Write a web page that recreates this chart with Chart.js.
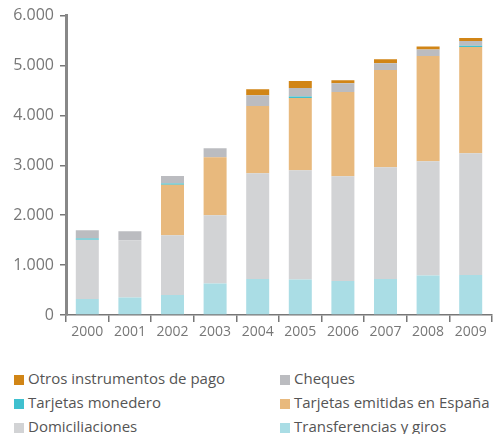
<!DOCTYPE html>
<html>
<head>
<meta charset="utf-8">
<script src="https://cdn.jsdelivr.net/npm/chart.js@4"></script>
<style>
    body { margin: 0; background: #fff; font-family: "Open Sans", sans-serif; }
    #wrap { position: relative; width: 494px; height: 345px; }
    #legend { position: relative; width: 494px; height: 89px; }
    .item { position: absolute; font-size: 15px; color: #555; white-space: nowrap; line-height: 18px; }
    .item span { display: inline-block; width: 10px; height: 10px; margin-right: 4px; vertical-align: -1px; }
</style>
</head>
<body>
<div id="wrap"><canvas id="chart"></canvas></div>
<div id="legend"></div>
<script>
// Data (millones de operaciones, aprox.)
const years = ['2000', '2001', '2002', '2003', '2004', '2005', '2006', '2007', '2008', '2009'];
const transferencias = [320, 350, 400, 630, 720, 710, 680, 720, 790, 800];
const domiciliaciones = [1190, 1150, 1200, 1370, 2120, 2190, 2100, 2240, 2290, 2440];
const tarjetasEspana = [0, 0, 1010, 1160, 1350, 1450, 1690, 1950, 2110, 2130];
const tarjetasMonedero = [25, 0, 25, 0, 0, 30, 0, 0, 0, 25];
const cheques = [165, 180, 150, 180, 213, 170, 173, 133, 133, 95];
const otros = [0, 0, 0, 0, 120, 140, 60, 80, 60, 60];
const yTicks = [0, 1000, 2000, 3000, 4000, 5000, 6000];

const datasets = [
    { label: 'Transferencias y giros', data: transferencias, backgroundColor: '#aadde5' },
    { label: 'Domiciliaciones', data: domiciliaciones, backgroundColor: '#d2d3d5' },
    { label: 'Tarjetas emitidas en España', data: tarjetasEspana, backgroundColor: '#e8b97d' },
    { label: 'Tarjetas monedero', data: tarjetasMonedero, backgroundColor: '#3fc0cf' },
    { label: 'Cheques', data: cheques, backgroundColor: '#bbbcc0' },
    { label: 'Otros instrumentos de pago', data: otros, backgroundColor: '#d18516' }
];
datasets.forEach(d => {
    d.barPercentage = 0.54;
    d.categoryPercentage = 1;
    d.borderWidth = 0;
});

function fmt(v) {
    return v.toString().replace(/\B(?=(\d{3})+(?!\d))/g, '.');
}

new Chart(document.getElementById('chart'), {
    type: 'bar',
    data: { labels: years, datasets: datasets },
    options: {
        responsive: true,
        maintainAspectRatio: false,
        animation: false,
        layout: { padding: { top: 15, right: 2, left: 0, bottom: 0 } },
        plugins: { legend: { display: false }, tooltip: { enabled: false } },
        scales: {
            x: {
                stacked: true,
                offset: true,
                grid: { offset: true, drawOnChartArea: false, drawTicks: true, tickLength: 7, color: '#777', lineWidth: 1.5 },
                border: { display: true, color: '#777', width: 1.5 },
                ticks: { color: '#777', font: { family: 'Open Sans', size: 14 }, padding: 2 },
                afterFit: s => { s.height = 30; }
            },
            y: {
                stacked: true,
                min: 0,
                max: 6000,
                afterBuildTicks: s => { s.ticks = yTicks.map(v => ({ value: v })); },
                grid: { drawOnChartArea: false, drawTicks: true, tickLength: 6, color: '#777', lineWidth: 1.5 },
                border: { display: true, color: '#888', width: 3 },
                ticks: { color: '#777', font: { family: 'Open Sans', size: 16 }, padding: 6, callback: v => fmt(v) },
                afterFit: s => { s.width = 66; }
            }
        }
    }
});

// Legend: reverse of stack order, two columns
const legend = document.getElementById('legend');
datasets.slice().reverse().forEach((d, i) => {
    const el = document.createElement('div');
    el.className = 'item';
    el.style.left = (i % 2 === 0 ? 14 : 280) + 'px';
    el.style.top = (24 + Math.floor(i / 2) * 24) + 'px';
    el.innerHTML = '<span style="background:' + d.backgroundColor + '"></span>' + d.label;
    legend.appendChild(el);
});
</script>
</body>
</html>
